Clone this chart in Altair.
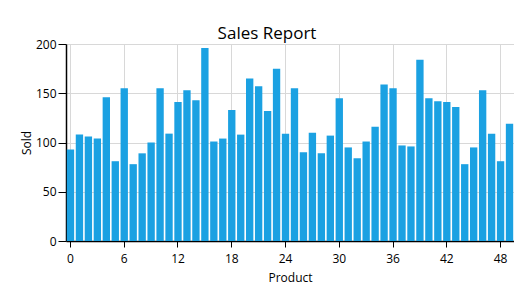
import altair as alt
import pandas as pd

products = list(range(50))
sold = [93, 108, 106, 104, 146, 81, 155, 78, 89, 100,
        155, 109, 141, 153, 143, 196, 101, 104, 133, 108,
        165, 157, 132, 175, 109, 155, 90, 110, 89, 107,
        145, 95, 84, 101, 116, 159, 155, 97, 96, 184,
        145, 142, 141, 136, 78, 95, 153, 109, 81, 119]
x_ticks = [0, 6, 12, 18, 24, 30, 36, 42, 48]
y_ticks = [0, 50, 100, 150, 200]

df = pd.DataFrame({"Product": products, "Sold": sold})
FONT = "Open Sans"

chart = alt.Chart(df).mark_bar(color="#1ba1e2").encode(
    x=alt.X("Product:O",
            scale=alt.Scale(paddingInner=0.18, paddingOuter=0.09),
            axis=alt.Axis(values=x_ticks, labelAngle=0, title="Product",
                          grid=True, tickSize=6, labelPadding=6, titlePadding=8)),
    y=alt.Y("Sold:Q",
            scale=alt.Scale(domain=[0, 200], nice=False),
            axis=alt.Axis(values=y_ticks, title="Sold", tickSize=8, labelPadding=2,
                          titlePadding=2)),
).properties(
    width=448, height=197,
    title=alt.TitleParams("Sales Report", fontSize=17, font=FONT, fontWeight="normal",
                          color="#000000", dx=-23, dy=9, offset=4),
    autosize=alt.AutoSizeParams(type="none"),
    padding={"left": 66, "top": 44, "right": 0, "bottom": 43},
).configure_view(
    stroke="#a0a0a0", strokeWidth=1
).configure_axis(
    labelFont=FONT, titleFont=FONT, labelFontSize=12, titleFontSize=12,
    labelColor="#000000", titleColor="#000000", titleFontWeight="normal",
    domainColor="#000000", tickColor="#000000", gridColor="#d8d8d8",
    domainWidth=1.5,
)

chart.save("out.html", embed_options={"renderer": "svg", "actions": False})
